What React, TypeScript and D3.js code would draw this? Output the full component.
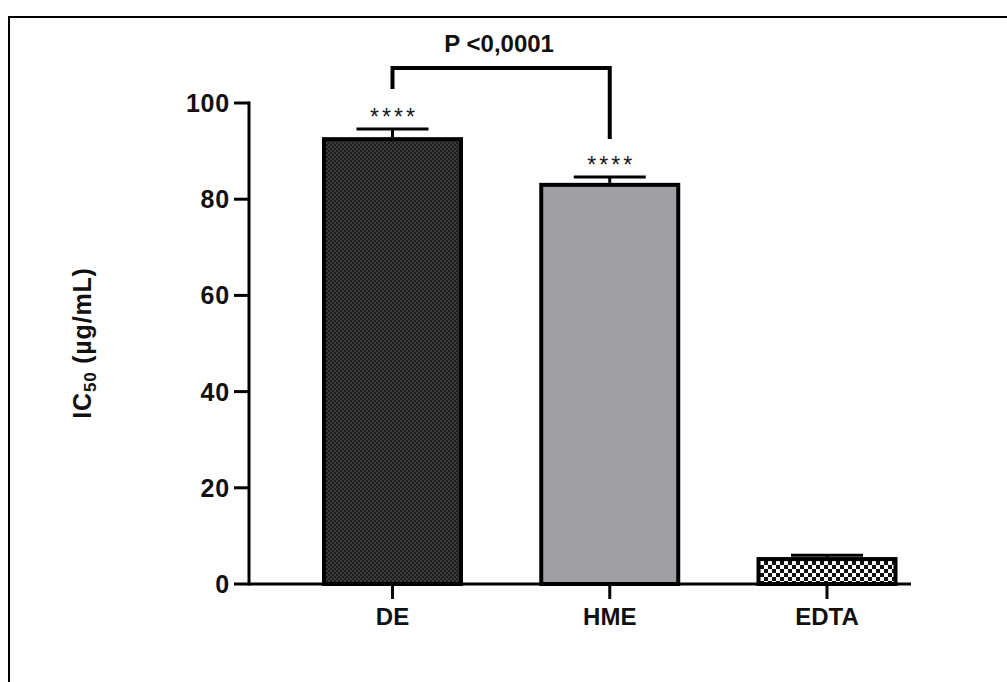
import React from "react";
import * as d3 from "d3";

const categories = ["DE", "HME", "EDTA"];
const means = [92.9, 83.4, 5.6];
const errors = [1.7, 1.2, 0.4];
const stars = ["****", "****", ""];
const yTicks = [0, 20, 40, 60, 80, 100];
const pLabel = "P <0,0001";

const W = 1007;
const H = 682;
const FONT = "Arial, 'Liberation Sans', Helvetica, sans-serif";

export default function App() {
  const y = d3.scaleLinear().domain([0, 100]).range([584, 103]);
  const x = d3.scalePoint<string>().domain(categories).range([392.5, 827]);
  const barW = 141;
  const axisX = 249;
  const axisEnd = 911;
  const fills = ["url(#darkDots)", "#a09fa4", "url(#checker)"];

  const bracketY = 68;
  const xDE = x("DE")!;
  const xHME = x("HME")!;

  return (
    <svg
      width={W}
      height={H}
      style={{ position: "absolute", left: 0, top: 0, background: "#fff" }}
      fontFamily={FONT}
    >
      <defs>
        <pattern id="darkDots" width="4" height="4" patternUnits="userSpaceOnUse">
          <rect width="4" height="4" fill="#1e1e1e" />
          <rect x="0" y="0" width="2" height="2" fill="#3a3a3a" />
          <rect x="2" y="2" width="2" height="2" fill="#3a3a3a" />
        </pattern>
        <pattern id="checker" width="8" height="8" patternUnits="userSpaceOnUse" x="0" y="1">
          <rect width="8" height="8" fill="#111" />
          <rect x="0" y="0" width="4" height="4" fill="#fff" />
          <rect x="4" y="4" width="4" height="4" fill="#fff" />
        </pattern>
      </defs>

      {/* outer frame */}
      <rect x={9} y={17} width={1100} height={800} fill="none" stroke="#000" strokeWidth={2} />

      {/* bars */}
      {categories.map((c, i) => {
        const cx = x(c)!;
        const top = y(means[i]);
        const capY = y(means[i] + errors[i]);
        return (
          <g key={c}>
            <rect
              x={cx - barW / 2 + 2}
              y={top + 2}
              width={barW - 4}
              height={y(0) - top - 2}
              fill={fills[i]}
              stroke="#000"
              strokeWidth={4}
            />
            {/* error bar */}
            <line x1={cx} x2={cx} y1={top} y2={capY} stroke="#000" strokeWidth={3} />
            <line x1={cx - 36} x2={cx + 36} y1={capY} y2={capY} stroke="#000" strokeWidth={3} />
            {stars[i] && (
              <text
                x={cx + 1.5}
                y={capY - 4}
                textAnchor="middle"
                fontSize={23}
                fill="#1a1a1a"
                letterSpacing={3}
              >
                {stars[i]}
              </text>
            )}
          </g>
        );
      })}

      {/* y axis */}
      <line x1={axisX} x2={axisX} y1={y(100) - 1.5} y2={y(0) + 1.5} stroke="#000" strokeWidth={3} />
      {yTicks.map((t) => (
        <g key={t}>
          <line x1={axisX - 15} x2={axisX} y1={y(t)} y2={y(t)} stroke="#000" strokeWidth={3} />
          <text
            x={axisX - 19}
            y={y(t)}
            dy="0.36em"
            textAnchor="end"
            fontSize={25}
            fontWeight="bold"
            fill="#111"
            letterSpacing={0.8}
          >
            {t}
          </text>
        </g>
      ))}

      {/* x axis */}
      <line x1={axisX} x2={axisEnd} y1={y(0)} y2={y(0)} stroke="#000" strokeWidth={3} />
      {categories.map((c) => (
        <g key={c}>
          <line x1={x(c)!} x2={x(c)!} y1={y(0)} y2={y(0) + 15} stroke="#000" strokeWidth={3} />
          <text x={x(c)!} y={625} textAnchor="middle" fontSize={24} fontWeight="bold" fill="#111">
            {c}
          </text>
        </g>
      ))}

      {/* y axis title */}
      <text
        transform="translate(91,343) rotate(-90)"
        textAnchor="middle"
        fontSize={25}
        fontWeight="bold"
        fill="#111"
        letterSpacing={0.8}
      >
        IC
        <tspan fontSize={17} dy={5}>50</tspan>
        <tspan dy={-5}> (µg/mL)</tspan>
      </text>

      {/* significance bracket */}
      <path
        d={`M${xDE},${y(means[0] + errors[0]) - 40} V${bracketY} H${xHME} V${y(means[1] + errors[1]) - 38}`}
        fill="none"
        stroke="#000"
        strokeWidth={4}
      />
      <text x={(xDE + xHME) / 2 - 2} y={52} textAnchor="middle" fontSize={24} fontWeight="bold" fill="#111">
        {pLabel}
      </text>
    </svg>
  );
}
